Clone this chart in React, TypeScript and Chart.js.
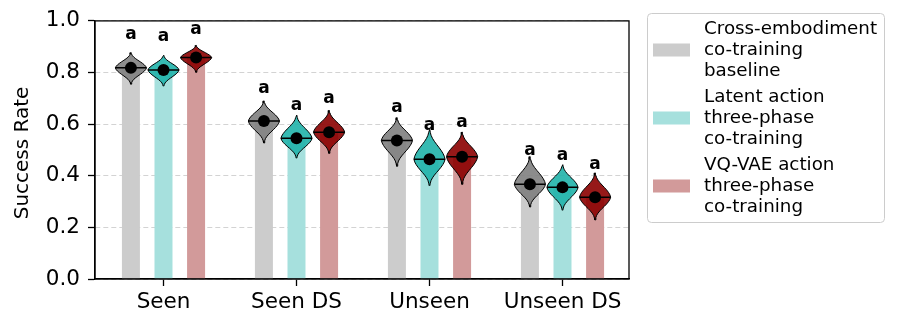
import React, { useEffect, useRef } from 'react';
import { Chart, registerables } from 'chart.js';

Chart.register(...registerables);

// ---------- data ----------
const categories = ['Seen', 'Seen DS', 'Unseen', 'Unseen DS'];
const seriesLabels = [
  ['Cross-embodiment', 'co-training', 'baseline'],
  ['Latent action', 'three-phase', 'co-training'],
  ['VQ-VAE action', 'three-phase', 'co-training'],
];
const yTicks = [0, 0.2, 0.4, 0.6, 0.8, 1.0];

// mean success rate per category (bar height / dot / violin peak)
const meanBaseline = [0.818, 0.612, 0.537, 0.367];
const meanLatent = [0.81, 0.545, 0.464, 0.355];
const meanVQ = [0.858, 0.569, 0.474, 0.317];

// violin upper / lower extent
const topBaseline = [0.877, 0.69, 0.625, 0.474];
const topLatent = [0.867, 0.635, 0.58, 0.443];
const topVQ = [0.905, 0.653, 0.569, 0.411];
const bottomBaseline = [0.755, 0.527, 0.437, 0.279];
const bottomLatent = [0.747, 0.468, 0.361, 0.266];
const bottomVQ = [0.801, 0.487, 0.367, 0.229];

// significance letters and their heights
const lettersBaseline = ['a', 'a', 'a', 'a'];
const lettersLatent = ['a', 'a', 'a', 'a'];
const lettersVQ = ['a', 'a', 'a', 'a'];
const letterYBaseline = [0.95, 0.741, 0.667, 0.499];
const letterYLatent = [0.942, 0.675, 0.594, 0.48];
const letterYVQ = [0.967, 0.7, 0.606, 0.445];

// normalized violin half-width profile from the peak (index 0) to the tail
const violinProfile = [1, 0.95, 0.86, 0.74, 0.6, 0.45, 0.31, 0.19, 0.1, 0.05, 0.018];

// ---------- styles ----------
const FONT = '"DejaVu Sans", "Liberation Sans", sans-serif';
const barColors = ['#cccccc', '#a6e0dd', '#d29a9a'];
const violinColors = ['rgba(128,128,128,0.9)', 'rgba(32,178,170,0.9)', 'rgba(139,0,0,0.9)'];
const seriesOffset = [-0.245, 0, 0.245];
const violinHalfWidth = 0.117;

const means = [meanBaseline, meanLatent, meanVQ];
const tops = [topBaseline, topLatent, topVQ];
const bottoms = [bottomBaseline, bottomLatent, bottomVQ];
const letters = [lettersBaseline, lettersLatent, lettersVQ];
const letterYs = [letterYBaseline, letterYLatent, letterYVQ];

function violinPoints(cx: number, mean: number, top: number, bottom: number, hw: number) {
  const n = violinProfile.length;
  const pts: { x: number; y: number }[] = [];
  for (let i = n - 1; i >= 0; i--) pts.push({ x: cx + hw * violinProfile[i], y: mean - ((mean - bottom) * i) / (n - 1) });
  for (let i = 1; i < n; i++) pts.push({ x: cx + hw * violinProfile[i], y: mean + ((top - mean) * i) / (n - 1) });
  for (let i = n - 1; i >= 0; i--) pts.push({ x: cx - hw * violinProfile[i], y: mean + ((top - mean) * i) / (n - 1) });
  for (let i = 1; i < n; i++) pts.push({ x: cx - hw * violinProfile[i], y: mean - ((mean - bottom) * i) / (n - 1) });
  pts.push({ ...pts[0] });
  return pts;
}

export default function App() {
  const canvasRef = useRef<HTMLCanvasElement | null>(null);

  useEffect(() => {
    const canvas = canvasRef.current;
    if (!canvas) return;

    const datasets: any[] = [];
    // bars
    for (let s = 0; s < 3; s++) {
      datasets.push({
        type: 'bar',
        data: categories.map((_, i) => ({ x: i + seriesOffset[s], y: means[s][i] })),
        backgroundColor: barColors[s],
        borderWidth: 0,
        grouped: false,
        maxBarThickness: 18,
        order: 10,
      });
    }
    // violins
    for (let s = 0; s < 3; s++) {
      for (let i = 0; i < categories.length; i++) {
        datasets.push({
          type: 'line',
          data: violinPoints(i + seriesOffset[s], means[s][i], tops[s][i], bottoms[s][i], violinHalfWidth),
          borderColor: '#000',
          borderWidth: 1,
          backgroundColor: violinColors[s],
          fill: 'shape',
          pointRadius: 0,
          tension: 0,
          order: 5,
        });
      }
    }
    // median lines
    const medianData: any[] = [];
    for (let s = 0; s < 3; s++) {
      for (let i = 0; i < categories.length; i++) {
        const cx = i + seriesOffset[s];
        medianData.push({ x: cx - violinHalfWidth, y: means[s][i] });
        medianData.push({ x: cx + violinHalfWidth, y: means[s][i] });
        medianData.push({ x: cx, y: null });
      }
    }
    datasets.push({
      type: 'line',
      data: medianData,
      borderColor: '#000',
      borderWidth: 1.5,
      pointRadius: 0,
      fill: false,
      spanGaps: false,
      order: 3,
    });
    // mean dots
    const dotData: any[] = [];
    for (let s = 0; s < 3; s++) {
      for (let i = 0; i < categories.length; i++) dotData.push({ x: i + seriesOffset[s], y: means[s][i] });
    }
    datasets.push({
      type: 'scatter',
      data: dotData,
      pointRadius: 6,
      pointBackgroundColor: '#000',
      pointBorderWidth: 0,
      showLine: false,
      order: 1,
    });

    const overlay = {
      id: 'overlay',
      afterDatasetsDraw(chart: any) {
        const { ctx, scales, chartArea } = chart;
        const xs = scales.x;
        const ys = scales.y;
        ctx.save();
        // letters
        ctx.fillStyle = '#000';
        ctx.font = `bold 17px ${FONT}`;
        ctx.textAlign = 'center';
        ctx.textBaseline = 'alphabetic';
        for (let s = 0; s < 3; s++) {
          for (let i = 0; i < categories.length; i++) {
            const px = xs.getPixelForValue(i + seriesOffset[s]);
            const py = ys.getPixelForValue(letterYs[s][i]);
            ctx.fillText(letters[s][i], px, py + 4.8);
          }
        }
        // frame
        ctx.strokeStyle = '#000';
        ctx.lineWidth = 1.3;
        ctx.strokeRect(chartArea.left, chartArea.top, chartArea.right - chartArea.left, chartArea.bottom - chartArea.top);
        ctx.restore();
      },
      afterDraw(chart: any) {
        const { ctx, chartArea } = chart;
        ctx.save();
        // y title
        ctx.fillStyle = '#000';
        ctx.font = `20px ${FONT}`;
        ctx.textAlign = 'center';
        ctx.textBaseline = 'middle';
        ctx.translate(23, (chartArea.top + chartArea.bottom) / 2 + 3);
        ctx.rotate(-Math.PI / 2);
        ctx.fillText('Success Rate', 0, 0);
        ctx.restore();

        // legend
        ctx.save();
        const bx = 647, by = 13, bw = 237, bh = 209;
        ctx.beginPath();
        ctx.roundRect(bx + 0.5, by + 0.5, bw, bh, 4);
        ctx.fillStyle = 'rgba(255,255,255,0.8)';
        ctx.fill();
        ctx.strokeStyle = '#cccccc';
        ctx.lineWidth = 1;
        ctx.stroke();
        ctx.font = `18.3px ${FONT}`;
        ctx.textAlign = 'left';
        ctx.textBaseline = 'middle';
        const centers = [50, 118, 186];
        for (let s = 0; s < 3; s++) {
          ctx.fillStyle = barColors[s];
          ctx.fillRect(653, centers[s] - 6.5, 37, 13);
          ctx.fillStyle = '#000';
          seriesLabels[s].forEach((line, k) => {
            ctx.fillText(line, 704, centers[s] + (k - 1) * 20.8);
          });
        }
        ctx.restore();
      },
    };

    const chart = new Chart(canvas, {
      type: 'bar',
      data: { datasets },
      plugins: [overlay],
      options: {
        animation: false,
        responsive: true,
        maintainAspectRatio: false,
        layout: { padding: { left: 0, top: 14, right: 268, bottom: 0 } },
        plugins: { legend: { display: false }, tooltip: { enabled: false } },
        scales: {
          x: {
            type: 'linear',
            min: -0.515,
            max: 3.5,
            offset: false,
            afterBuildTicks: (s: any) => {
              s.ticks = categories.map((_, i) => ({ value: i }));
            },
            afterFit: (s: any) => {
              s.height = 39;
            },
            ticks: {
              callback: (v: any) => categories[v] ?? '',
              font: { family: FONT, size: 21.5 },
              color: '#000',
              padding: 4,
              maxRotation: 0,
              autoSkip: false,
            },
            grid: { drawOnChartArea: false, tickLength: 7, tickWidth: 1.3, tickColor: '#000', offset: false },
            border: { color: '#000', width: 1.3 },
          },
          y: {
            min: 0,
            max: 1,
            afterBuildTicks: (s: any) => {
              s.ticks = yTicks.map((v) => ({ value: v }));
            },
            afterFit: (s: any) => {
              s.width = 95;
            },
            ticks: {
              callback: (v: any) => Number(v).toFixed(1),
              font: { family: FONT, size: 21.5 },
              color: '#000',
              padding: 8,
            },
            grid: { color: '#c8c8c8', lineWidth: 0.8, tickLength: 7, tickWidth: 1.3, tickColor: '#000' },
            border: { color: '#000', width: 1.3, dash: [5, 3] },
          },
        },
      } as any,
    });

    return () => chart.destroy();
  }, []);

  return (
    <div style={{ position: 'fixed', left: 0, top: 0, width: 897, height: 318 }}>
      <canvas ref={canvasRef} />
    </div>
  );
}
